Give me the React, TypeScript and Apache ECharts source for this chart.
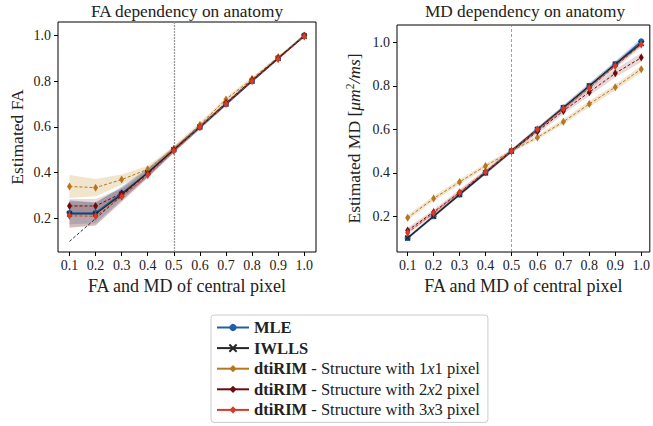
import React, { useEffect, useRef } from "react";
import * as echarts from "echarts";

const X = [0.1, 0.2, 0.3, 0.4, 0.5, 0.6, 0.7, 0.8, 0.9, 1.0];
const TICKS = [0.2, 0.4, 0.6, 0.8, 1.0];
const METHODS = ["MLE", "IWLLS", "dtiRIM 1x1", "dtiRIM 2x2", "dtiRIM 3x3"];
const REF_LINE = [0.1, 1.0];

// FA plot (mean, std)
const FA_MLE = [0.225, 0.225, 0.31, 0.4, 0.5, 0.6, 0.7, 0.8, 0.9, 1.0];
const FA_MLE_SD = [0.05, 0.045, 0.03, 0.02, 0.012, 0.01, 0.008, 0.006, 0.005, 0.004];
const FA_IWLLS = [0.22, 0.22, 0.305, 0.4, 0.5, 0.6, 0.7, 0.8, 0.9, 0.996];
const FA_IWLLS_SD = [0.06, 0.05, 0.03, 0.02, 0.012, 0.01, 0.008, 0.006, 0.005, 0.004];
const FA_R1 = [0.34, 0.335, 0.37, 0.415, 0.505, 0.61, 0.72, 0.81, 0.905, 0.998];
const FA_R1_SD = [0.05, 0.038, 0.022, 0.015, 0.012, 0.01, 0.01, 0.008, 0.006, 0.004];
const FA_R2 = [0.255, 0.255, 0.31, 0.395, 0.5, 0.6, 0.705, 0.805, 0.9, 0.998];
const FA_R2_SD = [0.03, 0.03, 0.02, 0.015, 0.01, 0.008, 0.006, 0.005, 0.004, 0.003];
const FA_R3 = [0.212, 0.21, 0.295, 0.39, 0.495, 0.6, 0.7, 0.8, 0.895, 0.995];
const FA_R3_SD = [0.05, 0.04, 0.025, 0.015, 0.01, 0.008, 0.006, 0.005, 0.004, 0.003];

// MD plot (mean, std)
const MD_MLE = [0.1, 0.2, 0.3, 0.4, 0.5, 0.6, 0.7, 0.8, 0.9, 1.005];
const MD_MLE_SD = [0.008, 0.008, 0.008, 0.009, 0.009, 0.01, 0.011, 0.012, 0.013, 0.015];
const MD_IWLLS = [0.1, 0.2, 0.3, 0.4, 0.5, 0.6, 0.7, 0.8, 0.9, 0.995];
const MD_IWLLS_SD = [0.006, 0.006, 0.007, 0.007, 0.008, 0.009, 0.01, 0.011, 0.012, 0.013];
const MD_R1 = [0.194, 0.282, 0.358, 0.432, 0.5, 0.563, 0.635, 0.717, 0.794, 0.877];
const MD_R1_SD = [0.012, 0.012, 0.012, 0.01, 0.008, 0.01, 0.012, 0.014, 0.014, 0.015];
const MD_R2 = [0.135, 0.22, 0.31, 0.405, 0.5, 0.59, 0.685, 0.771, 0.858, 0.93];
const MD_R2_SD = [0.012, 0.012, 0.012, 0.01, 0.008, 0.012, 0.014, 0.016, 0.018, 0.02];
const MD_R3 = [0.125, 0.215, 0.31, 0.405, 0.5, 0.6, 0.695, 0.79, 0.89, 0.99];
const MD_R3_SD = [0.01, 0.01, 0.01, 0.009, 0.008, 0.009, 0.01, 0.011, 0.012, 0.013];

const COLORS = ["#1f5fa8", "#262626", "#b8761f", "#6e0b0b", "#d63a28"];
const BAND_COLORS = [
  "rgba(31,95,168,0.22)",
  "rgba(70,70,80,0.25)",
  "rgba(200,150,60,0.25)",
  "rgba(110,11,11,0.16)",
  "rgba(214,58,40,0.14)",
];
const FONT = "Liberation Serif";
const CROSS = "path://M0,0L10,10M10,0L0,10";

function buildSeries(g: number, means: number[][], sds: number[][]) {
  const out: any[] = [];
  means.forEach((mean, k) => {
    const sd = sds[k];
    const rows = X.map((x, i) => [x, mean[i] - sd[i], mean[i] + sd[i]]);
    out.push({
      type: "custom",
      name: `band-${g}-${k}`,
      xAxisIndex: g,
      yAxisIndex: g,
      data: rows,
      encode: { x: 0, y: [1, 2] },
      silent: true,
      clip: true,
      z: 1,
      renderItem: (params: any, api: any) => {
        if (params.dataIndex !== 0) return null;
        const pts: number[][] = [];
        for (let i = 0; i < rows.length; i++) pts.push(api.coord([rows[i][0], rows[i][2]]));
        for (let i = rows.length - 1; i >= 0; i--) pts.push(api.coord([rows[i][0], rows[i][1]]));
        return {
          type: "polygon",
          shape: { points: pts },
          style: { fill: BAND_COLORS[k], stroke: "none" },
        };
      },
    });
  });
  out.push({
    type: "line",
    name: `ref-${g}`,
    xAxisIndex: g,
    yAxisIndex: g,
    data: REF_LINE.map((v) => [v, v]),
    symbol: "none",
    lineStyle: { color: "#000", width: 0.8, type: [3, 2] },
    silent: true,
    z: 2,
    markLine: {
      silent: true,
      symbol: "none",
      label: { show: false },
      data: [{ xAxis: 0.5 }],
      lineStyle:
        g === 0
          ? { color: "#999", width: 1.3, type: [2, 1] }
          : { color: "#777", width: 0.7, type: [3, 2] },
    },
  });
  means.forEach((mean, k) => {
    const isRim = k >= 2;
    const sym = k === 0 ? "circle" : k === 1 ? CROSS : "diamond";
    const size = k === 0 ? 6 : k === 1 ? 5 : [5, 8];
    out.push({
      type: "line",
      name: METHODS[k],
      xAxisIndex: g,
      yAxisIndex: g,
      data: X.map((x, i) => [x, mean[i]]),
      symbol: sym,
      symbolSize: size,
      showAllSymbol: true,
      lineStyle: {
        color: COLORS[k],
        width: isRim ? 1 : 1.3,
        type: isRim ? [3, 2] : "solid",
      },
      itemStyle: {
        color: COLORS[k],
        borderColor: COLORS[k],
        borderWidth: k === 1 ? 1.3 : 0,
      },
      z: 3 + k,
    });
  });
  return out;
}

function axisY(g: number, min: number, max: number, name: any, gap: number) {
  return {
    type: "value",
    gridIndex: g,
    min,
    max,
    name,
    nameLocation: "middle",
    nameGap: gap,
    nameTextStyle: {
      fontFamily: FONT,
      fontSize: 17.5,
      color: "#222",
      rich: {
        i: { fontFamily: FONT, fontSize: 17.5, fontStyle: "italic", color: "#222" },
        s: { fontFamily: FONT, fontSize: 11.5, fontStyle: "normal", color: "#222", padding: [0, 0, 8, 0] },
      },
    },
    axisLine: { show: false },
    splitLine: { show: false },
    axisTick: { show: true, length: 4, customValues: TICKS, lineStyle: { color: "#000" } },
    axisLabel: {
      customValues: TICKS,
      formatter: (v: number) => v.toFixed(1),
      fontFamily: FONT,
      fontSize: 14,
      color: "#222",
      margin: 7,
    },
  };
}

function axisX(g: number, min: number, max: number) {
  return {
    type: "value",
    gridIndex: g,
    min,
    max,
    name: "FA and MD of central pixel",
    nameLocation: "middle",
    nameGap: 22,
    nameTextStyle: { fontFamily: FONT, fontSize: 18, color: "#222" },
    axisLine: { show: false },
    splitLine: { show: false },
    axisTick: { show: true, length: 4, customValues: X, lineStyle: { color: "#000" } },
    axisLabel: {
      customValues: X,
      formatter: (v: number) => v.toFixed(1),
      fontFamily: FONT,
      fontSize: 14,
      color: "#222",
      margin: 6,
    },
  };
}

const LEGEND_TEXT: Record<string, string> = {
  MLE: "{b|MLE}",
  IWLLS: "{b|IWLLS}",
  "dtiRIM 1x1": "{b|dtiRIM} - Structure with 1{i|x}1 pixel",
  "dtiRIM 2x2": "{b|dtiRIM} - Structure with 2{i|x}2 pixel",
  "dtiRIM 3x3": "{b|dtiRIM} - Structure with 3{i|x}3 pixel",
};

export default function App() {
  const ref = useRef<HTMLDivElement>(null);
  useEffect(() => {
    if (!ref.current) return;
    const chart = echarts.init(ref.current, null, { renderer: "svg" });
    const option: any = {
      animation: false,
      backgroundColor: "#fff",
      title: [
        {
          text: "FA dependency on anatomy",
          left: 187,
          top: 3,
          textAlign: "center",
          padding: 0,
          textStyle: { fontFamily: FONT, fontSize: 17.3, fontWeight: "normal", color: "#222" },
        },
        {
          text: "MD dependency on anatomy",
          left: 525,
          top: 3,
          textAlign: "center",
          padding: 0,
          textStyle: { fontFamily: FONT, fontSize: 17.3, fontWeight: "normal", color: "#222" },
        },
      ],
      grid: [
        { left: 58, top: 22, width: 258, height: 230, show: true, borderColor: "#000", borderWidth: 1, containLabel: false },
        { left: 397, top: 25, width: 255, height: 227, show: true, borderColor: "#000", borderWidth: 1, containLabel: false },
      ],
      xAxis: [axisX(0, 0.056, 1.045), axisX(1, 0.059, 1.033)],
      yAxis: [
        axisY(0, 0.054, 1.058, "Estimated FA", 32),
        axisY(1, 0.036, 1.08, "Estimated MD [{i|μm}{s|2}{i|/ms}]", 33),
      ],
      legend: {
        data: METHODS,
        orient: "vertical",
        left: 211,
        top: 315,
        padding: [4, 8, 4, 5],
        itemWidth: 32,
        itemHeight: 9,
        itemGap: 3.6,
        itemTextGap: 11,
        backgroundColor: "#fff",
        borderColor: "#ccc",
        borderWidth: 1,
        borderRadius: 3,
        selectedMode: false,
        lineStyle: { type: "solid" },
        formatter: (name: string) => LEGEND_TEXT[name] || name,
        textStyle: {
          fontFamily: FONT,
          fontSize: 16.5,
          lineHeight: 16,
          color: "#222",
          rich: {
            b: { fontFamily: FONT, fontSize: 16.5, fontWeight: "bold", color: "#222", lineHeight: 16 },
            i: { fontFamily: FONT, fontSize: 16.5, fontStyle: "italic", color: "#222", lineHeight: 16 },
          },
        },
      },
      series: [
        ...buildSeries(0, [FA_MLE, FA_IWLLS, FA_R1, FA_R2, FA_R3], [FA_MLE_SD, FA_IWLLS_SD, FA_R1_SD, FA_R2_SD, FA_R3_SD]),
        ...buildSeries(1, [MD_MLE, MD_IWLLS, MD_R1, MD_R2, MD_R3], [MD_MLE_SD, MD_IWLLS_SD, MD_R1_SD, MD_R2_SD, MD_R3_SD]),
      ],
    };
    chart.setOption(option);
    return () => chart.dispose();
  }, []);
  return (
    <div
      ref={ref}
      style={{ position: "fixed", left: 0, top: 0, width: 653, height: 426 }}
    />
  );
}
